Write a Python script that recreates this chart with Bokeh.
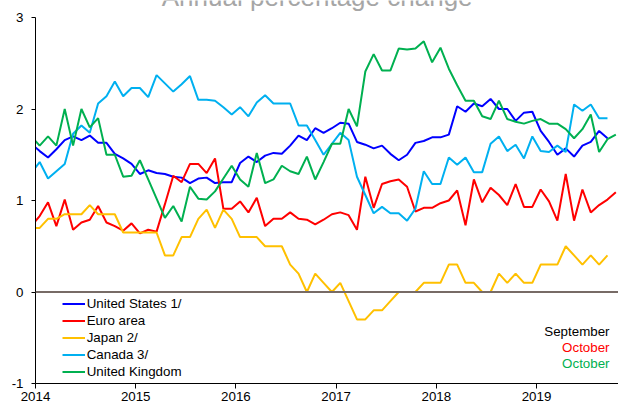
import pandas as pd
from bokeh.plotting import figure
from bokeh.models import Range1d, FixedTicker, Span, Label
from bokeh.embed import file_html
from bokeh.resources import INLINE

# ---------------- data (annual % change, monthly, Dec 2013 onward) ----------------
us_core = [1.62,
           1.54, 1.47, 1.56, 1.66, 1.70, 1.66, 1.71, 1.63, 1.63, 1.51, 1.46, 1.40,
           1.29, 1.33, 1.30, 1.29, 1.26, 1.25, 1.19, 1.24, 1.25, 1.19, 1.20, 1.20,
           1.41, 1.48, 1.42, 1.49, 1.52, 1.51, 1.60, 1.71, 1.66, 1.79, 1.74, 1.79,
           1.85, 1.84, 1.64, 1.61, 1.57, 1.60, 1.51, 1.44, 1.50, 1.63, 1.65, 1.69,
           1.69, 1.72, 2.03, 1.97, 2.06, 2.03, 2.11, 2.00, 2.00, 1.87, 1.96, 1.97,
           1.76, 1.64, 1.50, 1.57, 1.48, 1.60, 1.64, 1.76, 1.68]
euro_area = [0.72,
             0.83, 0.98, 0.72, 1.01, 0.68, 0.76, 0.79, 0.94, 0.76, 0.72, 0.67, 0.75,
             0.64, 0.68, 0.66, 0.96, 1.27, 1.20, 1.40, 1.40, 1.30, 1.46, 0.91, 0.91,
             0.99, 0.87, 1.03, 0.72, 0.80, 0.80, 0.87, 0.80, 0.79, 0.74, 0.79, 0.85,
             0.87, 0.84, 0.68, 1.26, 0.92, 1.18, 1.21, 1.23, 1.15, 0.88, 0.92, 0.92,
             0.97, 1.00, 1.11, 0.73, 1.23, 0.98, 1.14, 1.06, 0.95, 1.18, 0.93, 0.93,
             1.12, 0.99, 0.78, 1.29, 0.78, 1.12, 0.87, 0.95, 1.01, 1.09]
japan = [0.70,
         0.70, 0.80, 0.80, 0.85, 0.85, 0.85, 0.95, 0.85, 0.85, 0.85, 0.65, 0.65,
         0.65, 0.65, 0.65, 0.40, 0.40, 0.60, 0.60, 0.80, 0.90, 0.70, 0.90, 0.80,
         0.60, 0.60, 0.60, 0.50, 0.50, 0.50, 0.30, 0.20, 0.00, 0.20, 0.10, 0.00,
         0.10, -0.10, -0.30, -0.30, -0.20, -0.20, -0.10, 0.00, 0.00, 0.00, 0.10, 0.10,
         0.10, 0.30, 0.30, 0.10, 0.10, 0.00, 0.00, 0.20, 0.10, 0.20, 0.10, 0.10,
         0.30, 0.30, 0.30, 0.50, 0.40, 0.30, 0.40, 0.30, 0.40]
canada = [1.30,
          1.42, 1.24, 1.32, 1.40, 1.73, 1.82, 1.74, 2.06, 2.14, 2.30, 2.14, 2.23,
          2.23, 2.13, 2.37, 2.28, 2.19, 2.27, 2.36, 2.10, 2.10, 2.09, 2.02, 1.94,
          2.02, 1.92, 2.07, 2.15, 2.06, 2.06, 2.06, 1.82, 1.82, 1.66, 1.50, 1.62,
          1.74, 1.66, 1.26, 1.06, 0.86, 0.93, 0.86, 0.86, 0.78, 0.91, 1.32, 1.18,
          1.18, 1.47, 1.39, 1.47, 1.31, 1.31, 1.62, 1.70, 1.54, 1.61, 1.46, 1.70,
          1.54, 1.53, 1.60, 1.53, 2.05, 1.98, 2.05, 1.90, 1.90]
united_kingdom = [1.70,
                  1.60, 1.70, 1.60, 2.00, 1.60, 2.00, 1.80, 1.90, 1.50, 1.50, 1.26, 1.27,
                  1.44, 1.23, 1.02, 0.81, 0.94, 0.77, 1.15, 1.02, 1.01, 1.10, 1.24, 1.38,
                  1.23, 1.15, 1.52, 1.19, 1.23, 1.38, 1.32, 1.29, 1.48, 1.23, 1.42, 1.62,
                  1.62, 2.00, 1.81, 2.41, 2.60, 2.42, 2.42, 2.66, 2.65, 2.66, 2.74, 2.51,
                  2.67, 2.44, 2.26, 2.09, 2.09, 1.92, 1.89, 2.09, 1.89, 1.86, 1.84, 1.87,
                  1.89, 1.84, 1.84, 1.78, 1.68, 1.78, 1.94, 1.53, 1.67, 1.72]

series_names = ["United States 1/", "Euro area", "Japan 2/", "Canada 3/", "United Kingdom"]
series_values = [us_core, euro_area, japan, canada, united_kingdom]
series_colors = ["#0000FF", "#FF0000", "#FFC000", "#00B0F0", "#00B050"]

year_ticks = [2014, 2015, 2016, 2017, 2018, 2019]
value_ticks = [-1, 0, 1, 2, 3]

title_text = "Annual percentage change"
notes = [("September", "#000000"), ("October", "#FF0000"), ("October", "#00B050")]

# months from Dec 2013, plotted at mid-month as fractional years
periods = pd.period_range("2013-12", periods=71, freq="M")
month_x = [pr.year + (pr.month - 0.5) / 12.0 for pr in periods]

FONT = "Liberation Sans"

# frame reaches the top of the canvas (so the cut-off title is not clipped);
# the value axis itself is bounded to -1..3
p = figure(width=618, height=406, output_backend="svg", toolbar_location=None,
           x_range=Range1d(2014, 2014 + 583 / 100.2), y_range=Range1d(-1, 3 + 17 / 91.5),
           min_border_left=35, min_border_right=0, min_border_top=0, min_border_bottom=23)
p.outline_line_color = None
p.xgrid.visible = False
p.ygrid.visible = False
p.background_fill_color = "white"
p.border_fill_color = "white"

for name, vals, col in zip(series_names, series_values, series_colors):
    p.line(month_x[:len(vals)], vals, line_color=col, line_width=2, legend_label=name)

p.add_layout(Span(location=0, dimension="width", line_color="#776B66", line_width=2))

# axes
p.xaxis.ticker = FixedTicker(ticks=year_ticks)
p.xaxis.major_label_overrides = {y: str(y) for y in year_ticks}
p.yaxis.ticker = FixedTicker(ticks=value_ticks)
p.yaxis.major_label_overrides = {v: str(v) for v in value_ticks}
p.yaxis.bounds = (-1, 3)
for ax in (p.xaxis[0], p.yaxis[0]):
    ax.axis_line_color = "black"
    ax.major_tick_line_color = "black"
    ax.minor_tick_line_color = None
    ax.major_tick_in = 0
    ax.major_label_text_font = FONT
    ax.major_label_text_font_size = "10pt"
    ax.major_label_text_color = "black"
p.xaxis.major_tick_out = 5
p.xaxis.major_label_standoff = 3
p.yaxis.major_tick_out = 4
p.yaxis.major_label_standoff = 8

# legend
lg = p.legend[0]
lg.location = (26.7, 4.5)
lg.padding = 0
lg.margin = 0
lg.spacing = 2
lg.glyph_width = 23
lg.glyph_height = 15
lg.label_height = 15
lg.label_standoff = 2
lg.label_text_font = FONT
lg.label_text_font_size = "10pt"
lg.label_text_color = "black"
lg.border_line_color = None
lg.background_fill_alpha = 0

# title (partly cut off at the top of the picture)
p.add_layout(Label(x=2016.811, y=3.222, text=title_text, text_align="center",
                   text_baseline="middle", text_font=FONT, text_font_size="26px",
                   text_color="#A6A6A6"))

# data-month notes
for i, (txt, col) in enumerate(notes):
    p.add_layout(Label(x=2019.7286, y=-0.4317 - i * 0.175, text=txt, text_align="right",
                       text_baseline="middle", text_font=FONT, text_font_size="10pt",
                       text_color=col))

open("out.html", "w").write(file_html(p, INLINE))
